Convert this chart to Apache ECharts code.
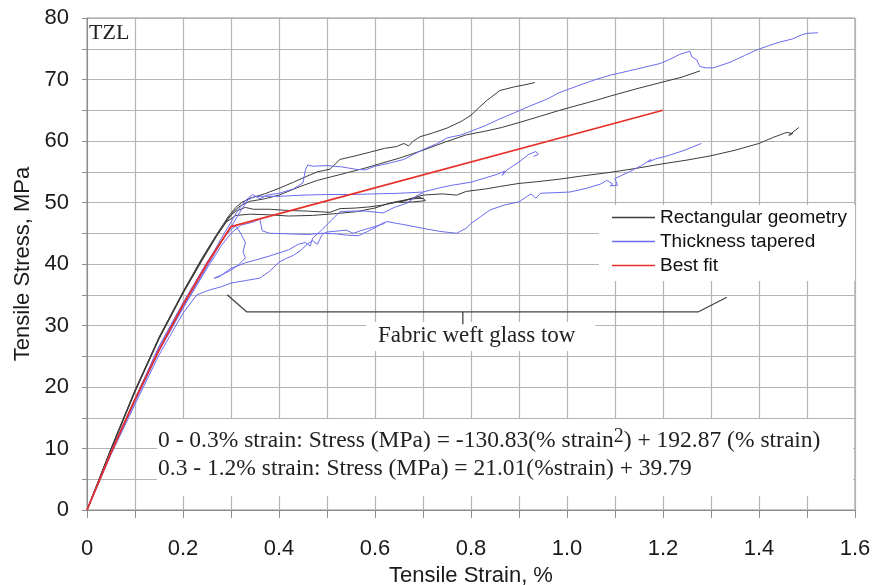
<!DOCTYPE html>
<html>
<head>
<meta charset="utf-8">
<script src="https://cdn.jsdelivr.net/npm/echarts@6/dist/echarts.min.js"></script>
<style>
  html, body { margin: 0; padding: 0; background: #fff; }
  #chart { width: 873px; height: 585px; }
</style>
</head>
<body>
<div id="chart"></div>
<script>
// Tensile stress-strain curves, TZL specimens. Each point: [strain %, stress MPa]

// Rectangular geometry specimens
const rect1 = [[0,0],[0.05,10],[0.1,19.5],[0.15,28],[0.2,35.5],[0.24,41],[0.27,44.8],[0.295,47.8],[0.31,49.2],[0.322,50],[0.34,50.7],[0.37,51.4],[0.4,52.3],[0.43,53.3],[0.45,54],[0.48,55],[0.506,55.4],[0.527,57],[0.56,57.6],[0.59,58.2],[0.62,58.8],[0.645,59.1],[0.66,59.6],[0.67,59.2],[0.68,60],[0.694,60.7],[0.72,61.3],[0.75,62.1],[0.78,63.2],[0.8,64.2],[0.815,65.3],[0.833,66.6],[0.85,67.6],[0.86,68.2],[0.875,68.5],[0.89,68.8],[0.91,69.1],[0.933,69.5]];
const rect2 = [[0,0],[0.05,9.8],[0.1,19.2],[0.15,27.8],[0.2,35.2],[0.24,40.6],[0.27,44.5],[0.29,46.8],[0.305,48.5],[0.32,49.5],[0.34,50.2],[0.37,50.6],[0.4,51.2],[0.444,52.6],[0.48,53.6],[0.51,54.2],[0.54,54.8],[0.575,55.5],[0.61,56.3],[0.65,57.2],[0.7,58.5],[0.745,59.8],[0.79,61],[0.83,61.6],[0.864,62.2],[0.9,63],[0.943,64],[0.985,65],[1.027,65.9],[1.06,66.6],[1.09,67.3],[1.15,68.6],[1.2,69.6],[1.24,70.4],[1.277,71.4]];
const rect3 = [[0,0],[0.05,9.9],[0.1,19.3],[0.15,27.9],[0.2,35.3],[0.24,40.8],[0.27,44.6],[0.295,47.6],[0.31,48.6],[0.33,49.2],[0.346,48.9],[0.38,48.9],[0.42,48.7],[0.46,48.6],[0.506,48.4],[0.527,49],[0.56,49.1],[0.59,49.3],[0.617,49.6],[0.65,50.1],[0.7,51.2],[0.74,51.4],[0.77,51.2],[0.79,51.8],[0.83,52.2],[0.86,52.6],[0.9,53.1],[0.94,53.4],[0.985,53.8],[1.03,54.3],[1.09,54.9],[1.14,55.5],[1.2,56.3],[1.25,56.9],[1.3,57.6],[1.35,58.5],[1.4,59.6],[1.43,60.6],[1.458,61.4],[1.47,61.2],[1.462,60.9],[1.483,62.2]];
const rect4 = [[0,0],[0.05,9.9],[0.1,19.4],[0.15,28.1],[0.2,35.4],[0.24,40.9],[0.27,44.7],[0.29,46.8],[0.31,47.9],[0.34,48.1],[0.38,48],[0.42,47.8],[0.47,47.9],[0.52,48.2],[0.56,48.5],[0.6,49.1],[0.63,49.9],[0.655,50.3],[0.68,50.6],[0.7,50.7],[0.705,50.3],[0.68,50.1],[0.65,50],[0.67,50.5],[0.69,50.9],[0.7,50.6]];

// Thickness tapered specimens
const taper1 = [[0,0],[0.05,9.4],[0.1,18],[0.15,26.5],[0.2,33.5],[0.25,40],[0.28,44.2],[0.3,46.8],[0.315,48.8],[0.33,50.3],[0.345,51.3],[0.36,50.6],[0.375,51.2],[0.4,51.5],[0.43,52.2],[0.45,53.2],[0.455,55.3],[0.46,56.1],[0.47,55.9],[0.5,56],[0.53,55.8],[0.56,55.4],[0.58,55.3],[0.6,55.9],[0.63,56.4],[0.66,57],[0.68,57.8],[0.7,58.6],[0.73,59.6],[0.75,60.5],[0.78,61],[0.8,61.6],[0.83,62.5],[0.86,63.6],[0.888,64.5],[0.92,65.6],[0.958,66.8],[0.985,67.9],[1.027,69.1],[1.06,70],[1.09,70.7],[1.14,71.6],[1.194,72.6],[1.215,73.3],[1.235,74.1],[1.256,74.6],[1.26,73.7],[1.27,73.2],[1.277,72.1],[1.29,71.9],[1.305,71.9],[1.34,72.8],[1.37,73.9],[1.395,74.8],[1.42,75.5],[1.444,76.1],[1.47,76.6],[1.49,77.3],[1.5,77.5],[1.523,77.6]];
const taper2 = [[0,0],[0.05,9.2],[0.1,17.8],[0.15,26],[0.2,33],[0.25,39.6],[0.28,43.6],[0.3,46],[0.32,48.6],[0.335,50.4],[0.35,51],[0.4,51],[0.45,51.2],[0.5,51.3],[0.55,51.3],[0.6,51.4],[0.65,51.5],[0.7,51.7],[0.73,52.3],[0.76,52.8],[0.8,53.3],[0.83,54],[0.855,54.6],[0.87,55.1],[0.865,54.4],[0.875,55.3],[0.9,56.6],[0.92,57.8],[0.935,58.3],[0.94,57.8],[0.93,57.5]];
const taper3 = [[0,0],[0.05,9.3],[0.1,17.6],[0.15,25.8],[0.2,32.8],[0.25,39.3],[0.28,43],[0.3,45],[0.32,46.3],[0.345,46.8],[0.36,47.3],[0.365,45.4],[0.38,45],[0.42,44.9],[0.46,44.8],[0.49,45],[0.52,44.9],[0.54,44.7],[0.565,44.6],[0.585,45.3],[0.6,45.9],[0.615,46.6],[0.625,46.9],[0.66,46.4],[0.7,45.8],[0.735,45.3],[0.77,45],[0.79,45.8],[0.8,46.6],[0.82,47.7],[0.84,48.8],[0.87,49.6],[0.9,50.1],[0.915,50.9],[0.925,51.4],[0.935,50.7],[0.945,51.5],[0.975,51.6],[1.006,51.7],[1.04,52.3],[1.07,53],[1.083,53.6],[1.095,53],[1.09,52.7],[1.105,52.8],[1.1,53.9],[1.13,55],[1.155,56],[1.175,57],[1.17,56.6],[1.185,57.1],[1.21,57.6],[1.245,58.5],[1.28,59.6]];
const taper4 = [[0,0],[0.05,9],[0.1,17.2],[0.15,25.2],[0.2,32],[0.229,35],[0.256,35.8],[0.28,36.3],[0.3,36.9],[0.33,37.3],[0.36,37.7],[0.38,38.8],[0.4,40.3],[0.415,40.9],[0.43,41.4],[0.445,42.2],[0.46,43.3],[0.47,43.8],[0.48,43.2],[0.49,44.8],[0.5,45.2],[0.54,45.5],[0.555,45],[0.57,45.4],[0.6,46.1],[0.62,46.6]];
const taper5 = [[0,0],[0.05,9.5],[0.1,18.1],[0.15,26.6],[0.2,33.7],[0.25,40.3],[0.28,43.8],[0.3,45.6],[0.31,46.2],[0.32,45],[0.33,43.5],[0.325,42],[0.33,41],[0.315,39.8],[0.3,39],[0.28,38.2],[0.265,37.7],[0.275,37.9],[0.3,39.3],[0.33,40.2],[0.354,40.7],[0.38,41.3],[0.4,41.8],[0.42,42.3],[0.44,43.2],[0.455,43.5],[0.465,42.9],[0.47,44.2],[0.49,45.6],[0.51,47.2],[0.527,48.5],[0.55,48.6],[0.58,48.6],[0.617,48.3],[0.64,49.2],[0.667,49.9],[0.685,51],[0.7,51.6]];

// Best fit: quadratic to 0.3 % strain, linear from 0.3 to 1.2 %
const bestFitStrain = [0, 0.05, 0.1, 0.15, 0.2, 0.25, 0.3, 1.2];
const bestFitStress = [0, 9.32, 17.98, 25.99, 33.34, 40.04, 46.09, 65.0];

// Bracket marking the fabric weft glass tow region
const bracketStrain = [0.292, 0.333, 1.273, 1.333];
const bracketStress = [35, 32.2, 32.2, 34.6];
const bracketTickStrain = [0.783, 0.783];
const bracketTickStress = [32.2, 30.2];

const legendNames = ['Rectangular geometry', 'Thickness tapered', 'Best fit'];

const SANS = "'Liberation Sans', Arial, sans-serif";
const SERIF = "'Liberation Serif', 'Times New Roman', serif";
const RECT_COLOR = '#3c3c3c';
const TAPER_COLOR = '#6b6bef';
const FIT_COLOR = '#e8302a';
const GRID_COLOR = '#b4b4b4';
const AXIS_COLOR = '#8c8c8c';

const zip = (xs, ys) => xs.map((x, i) => [x, ys[i]]);

function curve(name, data, color, width) {
  return {
    type: 'line', name, data, symbol: 'none', clip: true,
    lineStyle: { color, width }, itemStyle: { color },
    emphasis: { disabled: true }
  };
}

const series = [
  curve(legendNames[0], rect1, RECT_COLOR, 1),
  curve(legendNames[0], rect2, RECT_COLOR, 1),
  curve(legendNames[0], rect3, RECT_COLOR, 1),
  curve(legendNames[0], rect4, RECT_COLOR, 1),
  curve(legendNames[1], taper1, TAPER_COLOR, 1),
  curve(legendNames[1], taper2, TAPER_COLOR, 1),
  curve(legendNames[1], taper3, TAPER_COLOR, 1),
  curve(legendNames[1], taper4, TAPER_COLOR, 1),
  curve(legendNames[1], taper5, TAPER_COLOR, 1),
  curve('bracket', zip(bracketStrain, bracketStress), '#444', 1.3),
  curve('bracketTick', zip(bracketTickStrain, bracketTickStress), '#444', 1.3),
  curve(legendNames[2], zip(bestFitStrain, bestFitStress), FIT_COLOR, 1.8)
];

const chart = echarts.init(document.getElementById('chart'), null, { renderer: 'canvas' });

chart.setOption({
  animation: false,
  backgroundColor: '#fff',
  grid: {
    left: 87, right: 18, top: 18, bottom: 75,
    outerBoundsMode: 'none', containLabel: false,
    show: true, borderColor: AXIS_COLOR, borderWidth: 1
  },
  legend: {
    data: legendNames,
    orient: 'vertical',
    left: 599, top: 205,
    icon: 'rect',
    itemWidth: 43, itemHeight: 1.6, itemGap: 5,
    padding: [3, 8, 6, 13],
    backgroundColor: '#fff',
    textStyle: { fontFamily: SANS, fontSize: 19, color: '#111', lineHeight: 19 }
  },
  xAxis: {
    type: 'value', min: 0, max: 1.6, interval: 0.2,
    name: 'Tensile Strain, %', nameLocation: 'middle', nameGap: 52,
    nameTextStyle: { fontFamily: SANS, fontSize: 22, color: '#1a1a1a' },
    axisLine: { show: true, lineStyle: { color: AXIS_COLOR, width: 1 } },
    axisTick: { show: true, length: 8, lineStyle: { color: AXIS_COLOR } },
    minorTick: { show: true, splitNumber: 2, length: 8, lineStyle: { color: AXIS_COLOR } },
    axisLabel: {
      margin: 28, fontFamily: SANS, fontSize: 22, color: '#1a1a1a',
      formatter: v => (v === 0 ? '0' : v.toFixed(1))
    },
    splitLine: { show: true, lineStyle: { color: GRID_COLOR, width: 1.2 } },
    minorSplitLine: { show: true, lineStyle: { color: GRID_COLOR, width: 1.2 } }
  },
  yAxis: {
    type: 'value', min: 0, max: 80, interval: 10,
    name: 'Tensile Stress, MPa', nameLocation: 'middle', nameGap: 46,
    nameTextStyle: { fontFamily: SANS, fontSize: 22, color: '#1a1a1a' },
    axisLine: { show: true, lineStyle: { color: AXIS_COLOR, width: 1 } },
    axisTick: { show: true, length: 5, lineStyle: { color: AXIS_COLOR } },
    minorTick: { show: true, splitNumber: 2, length: 5, lineStyle: { color: AXIS_COLOR } },
    axisLabel: { margin: 18, fontFamily: SANS, fontSize: 22, color: '#1a1a1a' },
    splitLine: { show: true, lineStyle: { color: GRID_COLOR, width: 1.2 } },
    minorSplitLine: { show: true, lineStyle: { color: GRID_COLOR, width: 1.2 } }
  },
  graphic: [
    {
      type: 'rect', z: 1, silent: true,
      shape: { x: 157, y: 419, width: 696, height: 77 },
      style: { fill: '#fff' }
    },
    {
      type: 'text', z: 1, silent: true, left: 89, top: 22,
      style: { text: 'TZL', font: '22px ' + SERIF, fill: '#222' }
    },
    {
      type: 'text', z: 1, silent: true, x: 366, y: 322,
      style: {
        text: 'Fabric weft glass tow', font: '23px ' + SERIF, fill: '#222',
        backgroundColor: '#fff', padding: [1, 20, 2, 12], lineHeight: 26
      }
    },
    {
      type: 'text', z: 2, silent: true, x: 158, y: 427,
      style: {
        text: '0 - 0.3% strain: Stress (MPa) = -130.83(% strain{sup|2}) + 192.87 (% strain)\n0.3 - 1.2% strain: Stress (MPa) = 21.01(%strain) + 39.79',
        font: '23.5px ' + SERIF, fill: '#222', lineHeight: 28,
        rich: {
          sup: { fontSize: 20, fontFamily: SERIF, lineHeight: 14, verticalAlign: 'top', fill: '#222' }
        }
      }
    }
  ],
  series
});
</script>
</body>
</html>
